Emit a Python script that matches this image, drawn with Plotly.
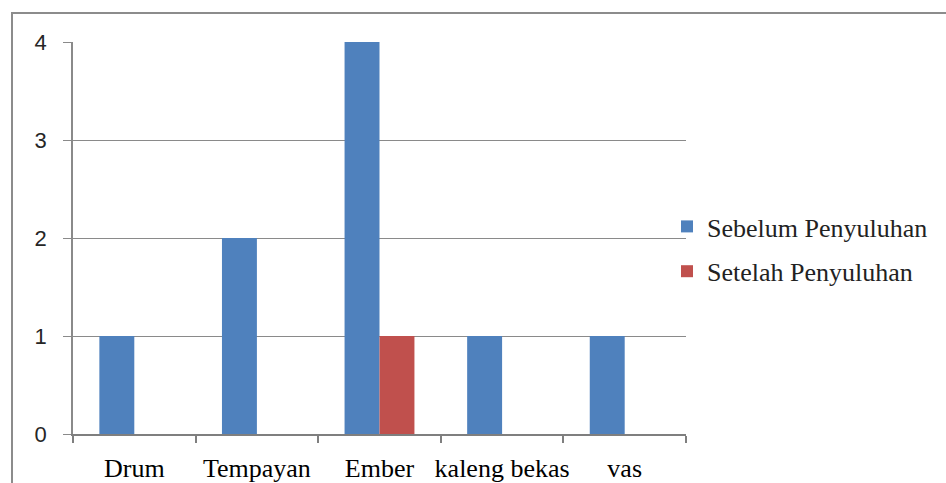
import plotly.graph_objects as go

categories = ["Drum", "Tempayan", "Ember", "kaleng bekas", "vas"]
sebelum = [1, 2, 4, 1, 1]
setelah = [0, 0, 1, 0, 0]
y_ticks = [0, 1, 2, 3, 4]

W, H = 946, 483
L, R, T, B = 73, 260, 42, 49
pw = W - L - R
ph = H - T - B

def px_x(p):
    return (p - L) / pw

def px_y(p):
    return (H - B - p) / ph

fig = go.Figure()
fig.add_trace(go.Bar(x=categories, y=sebelum, name="Sebelum Penyuluhan",
                     marker=dict(color="#4F81BD", line=dict(width=0)),
                     legendgroup="a"))
fig.add_trace(go.Bar(x=categories, y=setelah, name="Setelah Penyuluhan",
                     marker=dict(color="#C0504D", line=dict(width=0)),
                     legendgroup="b"))

fig.update_layout(
    width=W, height=H,
    margin=dict(l=L, r=R, t=T, b=B, pad=0, autoexpand=False),
    paper_bgcolor="white", plot_bgcolor="white",
    barmode="group", bargap=0.43, bargroupgap=0,
    showlegend=True,
    legend=dict(x=px_x(667), y=px_y(249), xanchor="left", yanchor="middle",
                font=dict(family="Liberation Serif", size=26, color="#222222"),
                tracegroupgap=8, traceorder="grouped",
                bgcolor="rgba(0,0,0,0)"),
    font=dict(family="Liberation Serif", color="black"),
)
fig.update_xaxes(
    showgrid=False, showline=True, linecolor="#7f7f7f", linewidth=1.5,
    ticks="outside", ticklen=7, tickcolor="#7f7f7f", tickwidth=1.5,
    tickson="boundaries", ticklabelstandoff=10, tickangle=0, automargin=False,
    tickfont=dict(family="Liberation Serif", size=26, color="black"),
)
fig.update_yaxes(
    range=[0, 4], tickvals=y_ticks, automargin=False,
    showgrid=True, gridcolor="#8a8a8a", gridwidth=1,
    showline=True, linecolor="#8a8a8a", linewidth=1.5,
    ticks="outside", ticklen=8, tickcolor="#8a8a8a", tickwidth=1,
    ticklabelstandoff=12, zeroline=False,
    tickfont=dict(family="Liberation Sans", size=22, color="#262626"),
)
fig.add_shape(type="rect", xref="paper", yref="paper",
              x0=px_x(12), x1=px_x(960), y0=px_y(13), y1=px_y(500),
              line=dict(color="#8c8c8c", width=2), fillcolor="rgba(0,0,0,0)",
              layer="below")

fig.write_html("out.html")
